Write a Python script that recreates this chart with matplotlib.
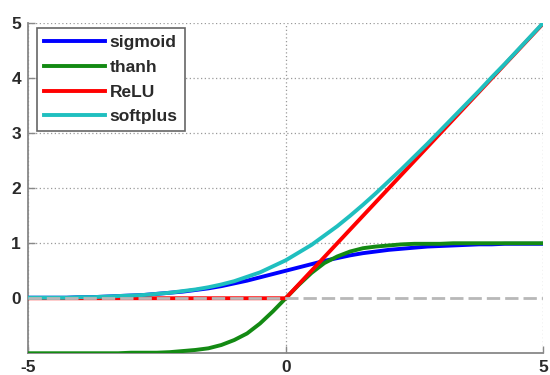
import numpy as np
import matplotlib
matplotlib.use("Agg")
import matplotlib.pyplot as plt

# sample grid for the smooth curves, -5 .. 5 in steps of 0.25
x_vals = np.arange(-5, 5.001, 0.25)

# values at each x_vals point
sigmoid_vals = [0.01, 0.01, 0.01, 0.01, 0.02, 0.02, 0.03, 0.04, 0.05, 0.06,
                0.08, 0.10, 0.12, 0.15, 0.18, 0.22, 0.27, 0.32, 0.38, 0.44,
                0.50,
                0.56, 0.62, 0.68, 0.73, 0.78, 0.82, 0.85, 0.88, 0.90, 0.92,
                0.94, 0.95, 0.96, 0.97, 0.98, 0.98, 0.99, 0.99, 0.99, 0.99]
tanh_vals = [-1.00, -1.00, -1.00, -1.00, -1.00, -1.00, -1.00, -1.00, -0.99, -0.99,
             -0.99, -0.98, -0.96, -0.94, -0.91, -0.85, -0.76, -0.64, -0.46, -0.24,
             0.00,
             0.24, 0.46, 0.64, 0.76, 0.85, 0.91, 0.94, 0.96, 0.98, 0.99,
             0.99, 0.99, 1.00, 1.00, 1.00, 1.00, 1.00, 1.00, 1.00, 1.00]
softplus_vals = [0.01, 0.01, 0.01, 0.01, 0.02, 0.02, 0.03, 0.04, 0.05, 0.06,
                 0.08, 0.10, 0.13, 0.16, 0.20, 0.25, 0.31, 0.39, 0.47, 0.58,
                 0.69,
                 0.83, 0.97, 1.14, 1.31, 1.50, 1.70, 1.91, 2.13, 2.35, 2.58,
                 2.81, 3.05, 3.29, 3.53, 3.77, 4.02, 4.26, 4.51, 4.76, 5.01]

# ReLU only needs its corners
relu_x = [-5, 0, 5]
relu_vals = [0, 0, 5]

labels = ["sigmoid", "thanh", "ReLU", "softplus"]
colors = ["#0000ff", "#138a13", "#ff0000", "#1fbfbf"]

x_ticks = [-5, 0, 5]
y_ticks = [0, 1, 2, 3, 4, 5]

plt.rcParams["font.family"] = ["Liberation Sans", "DejaVu Sans"]
plt.rcParams["axes.unicode_minus"] = False

fig = plt.figure(figsize=(5.5, 3.75), dpi=100)
ax = fig.add_axes([0.051, 0.058, 0.937, 0.88])

lw = 2.8
ax.plot(x_vals, sigmoid_vals, color=colors[0], lw=lw, label=labels[0], zorder=3)
ax.plot(x_vals, tanh_vals, color=colors[1], lw=lw, label=labels[1], zorder=3)
ax.plot(relu_x, relu_vals, color=colors[2], lw=lw, label=labels[2], zorder=3)
ax.plot(x_vals, softplus_vals, color=colors[3], lw=lw, label=labels[3], zorder=3)

# dashed zero line on top
ax.axhline(0, color="#b8b8b8", lw=2, dashes=(4.8, 1.8), zorder=4)

ax.set_xlim(-5, 5)
ax.set_ylim(-1, 5)
ax.set_xticks(x_ticks)
ax.set_yticks(y_ticks)

ax.grid(True, linestyle=(0, (1, 2)), color="#9a9a9a", lw=0.9, zorder=1)
ax.set_axisbelow(True)
# the zero gridline sits under the dashed line, hide it
ax.get_ygridlines()[0].set_visible(False)

for side in ["top", "right"]:
    ax.spines[side].set_visible(False)
for side in ["left", "bottom"]:
    ax.spines[side].set_color("#888888")
    ax.spines[side].set_linewidth(1.3)

ax.tick_params(direction="in", length=5, width=1, color="#888888",
               labelsize=12.5, labelcolor="#2a2a2a")
ax.tick_params(axis="y", pad=5)
ax.tick_params(axis="x", pad=5)
for lab in ax.get_xticklabels() + ax.get_yticklabels():
    lab.set_fontweight("bold")

leg = ax.legend(loc="upper left", bbox_to_anchor=(0.017, 0.985),
                borderaxespad=0, fancybox=False, framealpha=1,
                edgecolor="#666666", handlelength=3.5, handletextpad=0.3,
                labelspacing=0.55, borderpad=0.4,
                prop={"size": 12.5, "weight": "bold"})
leg.get_frame().set_linewidth(1.2)
for t in leg.get_texts():
    t.set_color("#2a2a2a")

fig.savefig("out.png", dpi=100)
